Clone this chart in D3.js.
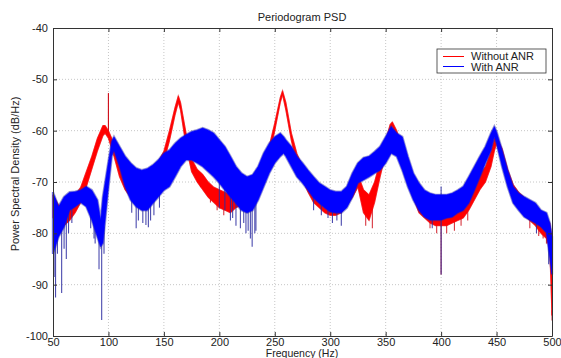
<!DOCTYPE html>
<html>
<head>
<meta charset="utf-8">
<script src="https://cdn.jsdelivr.net/npm/d3@7"></script>
<style>
  body { margin: 0; background: #fff; }
  text { font-family: "Liberation Sans", Arial, sans-serif; }
</style>
</head>
<body>
<svg width="561" height="358"></svg>
<script>
// axis ticks
const xTicks = [50, 100, 150, 200, 250, 300, 350, 400, 450, 500];
const yTicks = [-100, -90, -80, -70, -60, -50, -40];

// Without ANR: [frequency, lower edge, upper edge] of the noisy band (dB/Hz)
const withoutAnr = [
  [50,-77,-72.5],[55,-78,-74.5],[60,-78.5,-75],[65,-77.5,-74],[70,-76,-72.5],[75,-74,-71],
  [80,-71,-68],[85,-67.5,-65],[90,-64,-61.5],[95,-61,-59],[97,-60.5,-59],[100,-61.5,-60],
  [105,-65,-62.5],[110,-69,-66.5],[115,-71.5,-69],[120,-73,-70.5],[125,-72,-69.5],[130,-71.5,-69],
  [135,-71,-68.5],[140,-70,-67.5],[145,-68.5,-66],[150,-66,-64],[155,-62,-60],[160,-57,-55.5],
  [163,-54.5,-53.2],[165,-56,-54.5],[170,-63,-60.5],[175,-68,-65.5],[180,-70,-67.5],[185,-71.5,-68.5],
  [190,-73,-70],[195,-74,-71],[200,-75,-71.5],[205,-75.5,-72],[210,-76,-72.5],[215,-75,-72],
  [220,-74.5,-71.5],[225,-74,-71],[230,-73,-70.5],[235,-71,-69],[240,-68.5,-66.5],[245,-65,-63],
  [250,-60,-58.5],[255,-54.5,-53.5],[257,-53,-52.2],[260,-56,-54.5],[265,-62,-60.5],[270,-66.5,-64.5],
  [275,-69.5,-67],[280,-72,-69],[285,-74,-70.5],[290,-75,-71.5],[295,-76,-72.5],[300,-76.5,-73],
  [305,-76.5,-73],[310,-76,-72.5],[315,-74.5,-71.5],[320,-73,-70.5],[325,-71,-68.5],[330,-76,-71.5],
  [335,-77.5,-72.5],[340,-74,-70],[345,-69,-66],[350,-64.5,-62],[354,-60,-58.8],[356,-59.2,-58.3],
  [360,-61.5,-60],[365,-66,-63.5],[370,-70,-67.5],[375,-73,-70],[380,-76,-72],[385,-77,-73],
  [390,-78,-74],[395,-78.5,-74.5],[400,-78.5,-74.5],[405,-78.5,-74.5],[410,-78,-74],[415,-77.5,-73.5],
  [420,-77,-73.5],[425,-75.5,-72],[430,-73.5,-70],[435,-71.5,-68.5],[440,-70,-67],[445,-67,-64],
  [448,-64,-61.5],[450,-62.5,-61.3],[455,-66,-63.5],[460,-70,-67.5],[465,-73,-70.5],[470,-75,-72],
  [475,-76.5,-73],[480,-77.5,-74],[485,-78.5,-75],[490,-80,-76],[495,-81,-77],[498,-83,-78],[500,-96,-81]
];

// With ANR: [frequency, lower edge, upper edge]
const withAnr = [
  [50,-84,-72],[55,-80.7,-74.8],[60,-78.7,-72.9],[65,-75.5,-72],[70,-74.8,-71.9],[75,-74,-71.6],
  [80,-74.8,-70.9],[85,-77.4,-71.6],[90,-80.7,-73.5],[93,-82.6,-77.4],[95,-81.9,-72.9],[100,-71,-66],
  [103,-65,-62.1],[105,-63.8,-61.2],[110,-67,-63.1],[115,-70.9,-65],[120,-73.5,-66.3],[125,-74.8,-67.3],
  [130,-75.5,-67.7],[135,-75.5,-67.4],[140,-74.2,-66.7],[145,-72.9,-65.7],[150,-71.6,-64.4],[155,-70.9,-63.8],
  [160,-69,-62.5],[165,-67,-61.5],[170,-65.7,-60.8],[175,-65.7,-60.2],[180,-66.3,-59.9],[185,-67,-59.5],
  [190,-68,-59.9],[195,-69,-60.5],[200,-70.2,-61.8],[205,-71.6,-63.1],[210,-72.9,-65],[215,-74.2,-67],
  [220,-75.5,-68.3],[225,-76,-69],[230,-75.5,-68.6],[235,-73.5,-67],[240,-70.9,-64.4],[245,-68.3,-62.5],
  [250,-66.3,-61.2],[255,-65,-60.5],[258,-64.4,-61.2],[260,-65,-61.8],[265,-67,-63.1],[270,-69,-65],
  [275,-70.2,-66.3],[280,-71.6,-67.7],[285,-73.1,-69],[290,-74.1,-70.2],[295,-75,-70.9],[300,-75.8,-71.6],
  [305,-76,-71.9],[310,-76,-71.9],[315,-75,-70.9],[320,-72.9,-68.3],[325,-70.2,-66.3],[330,-69.6,-65.3],
  [335,-69,-65],[340,-68.3,-64.1],[345,-67.7,-63.1],[350,-66.3,-61.2],[355,-64.4,-59.2],[360,-65,-60.5],
  [365,-67.7,-61.2],[370,-70.9,-65],[375,-73.5,-68.3],[380,-75.5,-70.2],[385,-76.8,-71.6],[390,-77.4,-72.2],
  [395,-77.4,-72.5],[400,-77.4,-72.5],[405,-77,-72.5],[410,-76.8,-72.2],[415,-76,-71.6],[420,-75.5,-70.9],
  [425,-74.1,-69],[430,-71.6,-67],[435,-69,-65],[440,-66.3,-63.1],[445,-63.8,-60.5],[448,-61.2,-59.2],
  [450,-62.5,-60.2],[455,-67,-63.8],[460,-70.9,-67.7],[465,-74.1,-70.9],[470,-75.5,-72.2],[475,-76.8,-72.9],
  [480,-77.4,-73.5],[485,-78,-74.1],[490,-78.7,-75.5],[495,-79.9,-76],[498,-84.6,-78],[500,-88,-80.7]
];

// isolated spikes leaving the band: [frequency, tip value]
const withoutAnrSpikes = [
  [100,-52.7],[183,-71],[192,-74],[198,-75.5],[204,-76.5],[332,-78.5],[338,-79],
  [390,-79],[396,-80],[400,-88],[405,-80],[412,-79.5],[418,-78.5],[424,-77.5],
  [480,-79],[488,-80.5],[492,-81],[495,-82],[500,-97]
];
const withAnrSpikes = [
  [51,-88.5],[52.3,-92.5],[54,-84],[57.8,-91.6],[60,-83],[62,-85],[64,-80],[67,-78],
  [84,-79],[87,-81],[88,-82],[91.5,-87],[93.9,-96.9],[96,-84],
  [121,-76],[125,-79],[127,-77.5],[131,-78],[133.8,-78.4],[136,-78.8],[138,-77.5],[141,-76.5],[146,-75],
  [200,-75],[205,-75.5],[210,-77.5],[212,-77],[215,-78.5],[219,-79],[222,-78],[224,-80],[226,-79.5],
  [228,-81],[229.6,-82.6],[232,-80],[233,-79.5],
  [285,-75.5],[292,-76.5],[298,-77],[302,-78],[306,-77.5],[310,-78.5],
  [392,-79],[400,-88],[400,-70.9],[486,-80],[497,-86]
];

const series = [
  { name: "Without ANR", band: withoutAnr, spikes: withoutAnrSpikes, color: "#ff0000", edge: "#d0101c", halo: 1.2 },
  { name: "With ANR", band: withAnr, spikes: withAnrSpikes, color: "#0000ff", edge: "#2a2aa0", halo: 2.4 }
];

const svg = d3.select("svg");
const margin = { left: 53, right: 9, top: 28, bottom: 22 };
const W = 561, H = 358;

const x = d3.scaleLinear().domain([50, 500]).range([margin.left, W - margin.right]);
const y = d3.scaleLinear().domain([-100, -40]).range([H - margin.bottom, margin.top]);

// grid
const grid = svg.append("g").attr("stroke", "#b8b8b8").attr("stroke-width", 0.8).attr("stroke-dasharray", "1,2");
grid.selectAll(".gx").data(xTicks.slice(1, -1)).enter().append("line")
  .attr("x1", d => x(d)).attr("x2", d => x(d)).attr("y1", y(-40)).attr("y2", y(-100));
grid.selectAll(".gy").data(yTicks.slice(1, -1)).enter().append("line")
  .attr("x1", x(50)).attr("x2", x(500)).attr("y1", d => y(d)).attr("y2", d => y(d));

// series
const area = d3.area().x(d => x(d[0])).y0(d => y(d[1])).y1(d => y(d[2]));
series.forEach(s => {
  const g = svg.append("g");
  const lowAt = d3.scaleLinear().domain(s.band.map(d => d[0])).range(s.band.map(d => d[1]));
  const highAt = d3.scaleLinear().domain(s.band.map(d => d[0])).range(s.band.map(d => d[2]));
  // spikes first so the band covers their roots
  g.selectAll("line").data(s.spikes).enter().append("line")
    .attr("x1", d => x(d[0])).attr("x2", d => x(d[0]))
    .attr("y1", d => y(d[1] > highAt(d[0]) ? highAt(d[0]) - 1 : lowAt(d[0]) + 1))
    .attr("y2", d => y(d[1]))
    .attr("stroke", s.edge).attr("stroke-opacity", 0.85).attr("stroke-width", 1.1);
  // soft halo of the blurred noise edge
  g.append("path").datum(s.band).attr("d", area)
    .attr("fill", "none").attr("stroke", s.edge).attr("stroke-opacity", 0.45).attr("stroke-width", s.halo);
  g.append("path").datum(s.band).attr("d", area)
    .attr("fill", s.color).attr("stroke", s.color).attr("stroke-width", 0.6);
});

// red spike at 100 Hz sits on top
svg.append("line")
  .attr("x1", x(withoutAnrSpikes[0][0])).attr("x2", x(withoutAnrSpikes[0][0]))
  .attr("y1", y(-60)).attr("y2", y(withoutAnrSpikes[0][1]))
  .attr("stroke", "#d0101c").attr("stroke-width", 1);

// axes (box with inward ticks)
const xAxis = d3.axisBottom(x).tickValues(xTicks).tickSizeInner(-4).tickSizeOuter(0).tickPadding(2);
const yAxis = d3.axisLeft(y).tickValues(yTicks).tickSizeInner(-4).tickSizeOuter(0).tickPadding(5)
  .tickFormat(d3.format("d"));
const gx = svg.append("g").attr("transform", `translate(0,${y(-100)})`).call(xAxis);
const gy = svg.append("g").attr("transform", `translate(${x(50)},0)`).call(yAxis);
svg.append("g").attr("transform", `translate(0,${y(-40)})`)
  .call(d3.axisTop(x).tickValues(xTicks).tickSizeInner(-4).tickSizeOuter(0).tickFormat(""));
svg.append("g").attr("transform", `translate(${x(500)},0)`)
  .call(d3.axisRight(y).tickValues(yTicks).tickSizeInner(-4).tickSizeOuter(0).tickFormat(""));
svg.selectAll(".domain").attr("stroke", "#333");
svg.selectAll(".tick line").attr("stroke", "#333");
svg.selectAll(".tick text").attr("font-size", 11).attr("fill", "#222")
  .attr("font-family", "Liberation Sans, Arial, sans-serif");
gy.selectAll(".tick text").text(d => d3.format("d")(d).replace("−", "-"));

// titles
svg.append("text").attr("x", 302).attr("y", 21).attr("text-anchor", "middle")
  .attr("font-size", 11).attr("fill", "#222").text("Periodogram PSD");
svg.append("text").attr("x", 302).attr("y", 357).attr("text-anchor", "middle")
  .attr("font-size", 10.5).attr("fill", "#222").text("Frequency (Hz)");
svg.append("text").attr("transform", "translate(19,174) rotate(-90)").attr("text-anchor", "middle")
  .attr("font-size", 11).attr("fill", "#222").text("Power Spectral Density (dB/Hz)");

// legend
const lg = svg.append("g").attr("transform", "translate(437,49)");
lg.append("rect").attr("width", 109).attr("height", 24).attr("fill", "#fff").attr("stroke", "#333").attr("stroke-width", 0.8);
series.forEach((s, i) => {
  lg.append("line").attr("x1", 6).attr("x2", 27).attr("y1", 7.5 + i * 10).attr("y2", 7.5 + i * 10)
    .attr("stroke", s.color).attr("stroke-width", 1);
  lg.append("text").attr("x", 34).attr("y", 11 + i * 10.5).attr("font-size", 11).attr("fill", "#222").text(s.name);
});
</script>
</body>
</html>
